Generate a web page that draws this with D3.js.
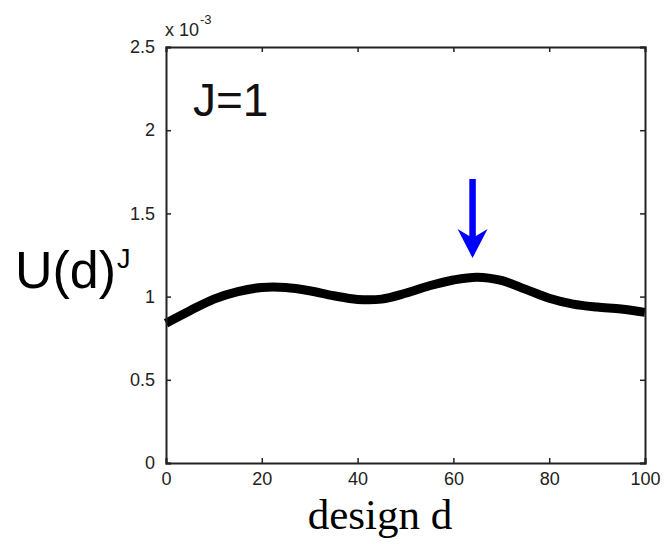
<!DOCTYPE html>
<html>
<head>
<meta charset="utf-8">
<script src="https://cdn.jsdelivr.net/npm/d3@7"></script>
<style>
  body { margin: 0; background: #fff; }
  svg { display: block; }
</style>
</head>
<body>
<div id="chart"></div>
<script>
// design values d and utility U(d) (units of 1e-3)
const designD = [0, 5, 10, 15, 20, 25, 30, 35, 40, 45, 50, 55, 60, 65, 70, 75, 80, 85, 90, 95, 100];
const utility = [0.84, 0.915, 0.985, 1.03, 1.055, 1.055, 1.035, 1.005, 0.983, 0.985, 1.02, 1.065, 1.10, 1.117, 1.097, 1.045, 0.99, 0.955, 0.937, 0.925, 0.905];
const xTicks = [0, 20, 40, 60, 80, 100];
const yTicks = [0, 0.5, 1, 1.5, 2, 2.5];
const arrowAt = 64;

const W = 666, H = 544;
const mLeft = 166, mRight = 645, mTop = 47, mBottom = 463;

const svg = d3.select("#chart").append("svg").attr("width", W).attr("height", H);

const x = d3.scaleLinear().domain([0, 100]).range([mLeft, mRight]);
const y = d3.scaleLinear().domain([0, 2.5]).range([mBottom, mTop]);

const data = designD.map((d, i) => ({ d: d, u: utility[i] }));

// curve
svg.append("path")
  .datum(data)
  .attr("fill", "none")
  .attr("stroke", "#000")
  .attr("stroke-width", 9)
  .attr("d", d3.line().x(p => x(p.d)).y(p => y(p.u)).curve(d3.curveCatmullRom));

// axes, ticks inside
const tickFont = "Arial, 'Liberation Sans', sans-serif";
const axB = svg.append("g").attr("transform", `translate(0,${mBottom})`)
  .call(d3.axisBottom(x).tickValues(xTicks).tickSize(-5).tickPadding(9).tickFormat(d3.format("d")));
const axT = svg.append("g").attr("transform", `translate(0,${mTop})`)
  .call(d3.axisTop(x).tickValues(xTicks).tickSize(-5).tickFormat(""));
const axL = svg.append("g").attr("transform", `translate(${mLeft},0)`)
  .call(d3.axisLeft(y).tickValues(yTicks).tickSize(-5).tickPadding(11).tickFormat(d => d));
const axR = svg.append("g").attr("transform", `translate(${mRight},0)`)
  .call(d3.axisRight(y).tickValues(yTicks).tickSize(-5).tickFormat(""));

[axB, axT, axL, axR].forEach(a => {
  a.attr("font-size", 18).attr("font-family", tickFont);
  a.select(".domain").attr("stroke", "#222").attr("stroke-width", 2);
  a.selectAll(".tick line").attr("stroke", "#222").attr("stroke-width", 1.5);
  a.selectAll("text").attr("fill", "#222");
});

// exponent label
const expo = svg.append("text")
  .attr("x", 165).attr("y", 36)
  .attr("font-family", tickFont).attr("font-size", 18).attr("fill", "#222")
  .text("x 10");
expo.append("tspan").attr("dy", -12).attr("dx", 1).attr("font-size", 13).text("-3");

// J=1
svg.append("text")
  .attr("x", 193).attr("y", 116)
  .attr("font-family", tickFont).attr("font-size", 46).attr("fill", "#111")
  .text("J=1");

// y label
const yl = svg.append("text")
  .attr("x", 15).attr("y", 288)
  .attr("font-family", tickFont).attr("font-size", 52).attr("fill", "#000")
  .text("U(d)");
yl.append("tspan").attr("dy", -20).attr("dx", 1).attr("font-size", 27).text("J");

// x label
svg.append("text")
  .attr("x", 380).attr("y", 529)
  .attr("text-anchor", "middle")
  .attr("font-family", "'Times New Roman', 'Liberation Serif', serif").attr("font-size", 43).attr("fill", "#000")
  .text("design d");

// blue arrow
const ax = x(arrowAt);
svg.append("line")
  .attr("x1", ax).attr("x2", ax).attr("y1", 179).attr("y2", 240)
  .attr("stroke", "#0000ff").attr("stroke-width", 6.5);
svg.append("path")
  .attr("d", `M${ax - 15},229 L${ax},258 L${ax + 15},229 L${ax},238 Z`)
  .attr("fill", "#0000ff");
</script>
</body>
</html>
